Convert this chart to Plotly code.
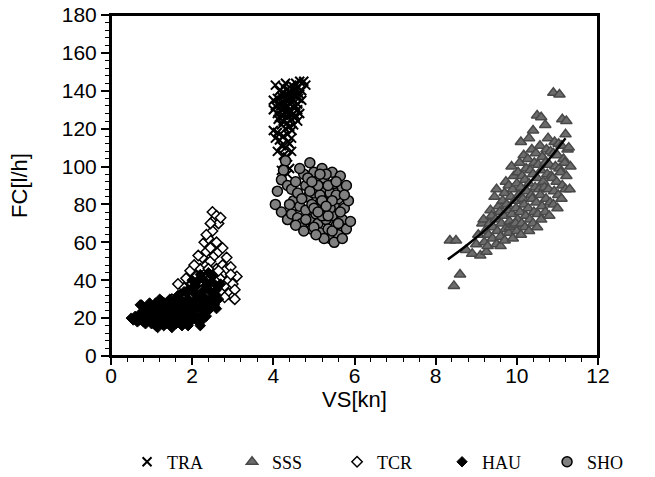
import plotly.graph_objects as go

# ---- data ----
TRA_x = [4.05,4.15,4.25,4.35,4.45,4.55,4.65,4.75,4.6,4.5,4.4,4.3,4.2,4.1,4.0,4.05,4.15,4.25,4.35,4.45,
         4.55,4.65,4.7,4.6,4.5,4.4,4.3,4.2,4.1,4.0,4.15,4.25,4.35,4.45,4.55,4.65,4.6,4.5,4.4,4.3,
         4.2,4.1,4.0,4.05,4.15,4.25,4.35,4.45,4.4,4.3,4.2,4.1,4.25,4.35,4.45,4.3,4.4,4.2,4.35,4.55,
         4.7,4.8,4.6,4.5,4.45,4.3,4.2,4.4,4.5,4.3,
         4.22,4.32,4.42,4.52,4.62,4.28,4.38,4.48,4.58,4.18,4.24,4.34,4.44,4.54,4.12,4.36,4.46,4.26]
TRA_y = [143,140,142,141,143,144,145,145,142,140,139,138,137,136,135,132,133,134,135,136,
         137,138,135,133,131,130,129,130,128,130,126,127,126,125,127,128,124,122,121,120,
         122,118,119,115,114,116,117,115,112,110,111,108,106,105,108,101,99,98,96,132,
         140,143,130,128,134,133,127,137,142,144,
         139,136,133,138,136,131,128,135,141,132,124,123,129,126,125,113,119,102]

SSS_x = [8.35,8.5,8.45,8.6,8.75,8.9,9.0,9.05,9.1,9.15,
         9.2,9.22,9.18,9.25,9.3,9.33,9.28,9.35,9.4,9.42,9.38,9.45,
         9.5,9.52,9.48,9.55,9.5,9.6,9.62,9.58,9.65,9.6,
         9.7,9.72,9.68,9.75,9.7,9.73,9.8,9.82,9.78,9.85,9.8,9.83,
         9.9,9.92,9.88,9.95,9.9,9.93,9.87,10.0,10.02,9.98,10.05,10.0,10.03,9.97,
         10.1,10.12,10.08,10.15,10.1,10.13,10.07,10.1,
         10.2,10.22,10.18,10.25,10.2,10.23,10.17,
         10.3,10.32,10.28,10.35,10.3,10.33,10.27,10.3,
         10.4,10.42,10.38,10.45,10.4,10.43,10.37,10.4,
         10.5,10.52,10.48,10.55,10.5,10.53,10.47,10.5,
         10.6,10.62,10.58,10.65,10.6,10.63,10.57,10.6,
         10.7,10.72,10.68,10.75,10.7,10.73,10.7,
         10.8,10.82,10.78,10.85,10.8,10.83,10.77,
         10.9,10.92,10.88,10.95,10.9,10.93,10.9,
         11.0,11.02,10.98,11.05,11.0,11.03,11.05,
         11.1,11.12,11.08,11.15,11.1,11.12,
         11.2,11.22,11.18,11.25,11.2,11.22,
         11.3,11.32,11.28]
SSS_y = [61,61,37,43,56,54,59,64,53,70,
         60,66,72,55,64,70,58,77,62,68,74,84,
         59,66,72,79,88,63,70,76,82,58,
         61,67,74,80,86,92,65,71,77,84,90,68,
         62,69,75,82,88,95,100,66,72,78,85,91,97,70,
         64,70,76,83,89,95,102,113,
         68,74,80,87,93,99,106,
         66,72,78,85,91,98,104,115,
         70,76,83,89,96,102,109,119,
         68,75,81,88,94,101,107,127,
         72,79,85,92,98,105,111,126,
         76,83,89,96,102,109,122,
         74,81,88,95,101,108,115,
         80,87,94,100,107,113,139,
         78,85,92,99,106,112,138,
         83,90,97,104,111,125,
         88,95,102,109,117,124,
         88,100,110]

TCR_x = [0.6,0.8,0.9,1.0,1.1,1.2,1.3,1.4,1.5,1.5,1.6,1.7,1.7,1.8,1.8,1.9,1.9,2.0,2.0,2.1,
         2.1,2.1,2.2,2.2,2.2,2.25,2.3,2.3,2.3,2.35,2.35,2.4,2.4,2.4,2.45,2.45,2.5,2.5,2.5,2.5,
         2.55,2.55,2.6,2.6,2.6,2.6,2.65,2.65,2.7,2.7,2.7,2.75,2.75,2.8,2.8,2.85,2.9,2.9,2.95,3.0,
         3.0,3.05,3.1,2.15,1.95,2.05,2.35,2.45,1.65,2.55,2.65,2.85,2.95,1.85,2.25,2.4,2.0,1.4,1.2,2.6,
         2.8,3.05]
TCR_y = [20,22,25,23,27,24,28,26,30,24,28,32,25,30,36,27,34,38,31,42,
         36,29,46,39,33,52,60,43,36,55,48,62,40,33,57,50,76,66,44,37,
         72,53,74,60,46,38,70,55,73,41,34,48,57,44,37,46,40,33,47,38,
         31,35,42,53,45,48,64,70,38,40,45,52,43,41,35,46,27,20,19,30,
         31,30]

HAU_x = [0.5,0.55,0.6,0.65,0.7,0.7,0.75,0.8,0.8,0.85,0.9,0.9,0.95,1.0,1.0,1.0,1.05,1.1,1.1,1.1,
         1.15,1.2,1.2,1.25,1.3,1.3,1.3,1.35,1.4,1.4,1.45,1.5,1.5,1.5,1.55,1.6,1.6,1.65,1.7,1.7,
         1.75,1.75,1.8,1.85,1.85,1.9,1.9,1.95,2.0,2.0,2.05,2.05,2.1,2.1,2.15,2.2,2.2,2.2,2.25,2.25,
         2.3,2.3,2.35,2.4,2.45,2.5,2.5,2.55,2.6,2.65,2.7,1.2,0.95,1.45,
         1.65,1.8,2.0,2.15,0.75,1.05,1.25,1.55,1.35,1.15,0.85,1.7,2.25,2.4,2.6,2.35,
         1.9,2.0,2.1,2.2,2.3,2.4,2.5,2.2,2.3,2.4,2.5,2.6,1.9,
         1.7,1.5,1.3,1.6,1.8,2.0,2.1,1.4,1.2,1.0,0.9,0.8,1.1,1.3,1.5,1.7,1.9,0.72]
HAU_y = [20,19,21,18,22,19,20,24,18,21,26,19,23,17,21,25,19,23,28,16,
         21,25,18,22,16,20,26,23,18,28,21,15,25,19,23,17,27,21,19,25,
         29,16,22,26,18,30,21,24,27,19,33,22,25,30,18,16,21,28,34,24,
         31,26,37,29,34,31,39,27,35,30,38,30,28,30,
         32,34,36,40,27,26,29,29,17,15,17,22,19,24,25,21,
         35,40,37,43,40,44,42,32,29,35,27,32,27,
         30,27,24,22,19,23,21,23,21,22,22,20,20,19,21,17,16,27]

SHO_x = [4.3,4.25,4.2,4.35,4.1,4.05,4.2,4.35,4.45,4.5,4.45,4.55,4.6,4.65,4.6,4.7,4.75,4.8,4.85,4.8,
         4.9,4.95,4.9,5.0,5.05,5.0,5.1,5.05,5.1,5.15,5.2,5.25,5.2,5.3,5.25,5.3,5.35,5.4,5.45,5.5,
         5.4,5.5,5.45,5.55,5.6,5.5,5.7,5.65,5.7,5.6,5.75,5.7,5.8,5.9,5.85,5.8,4.95,5.15,5.35,5.0,
         5.2,4.7,4.85,5.55,5.65,5.4,5.3,5.1,4.9,4.75,5.25,5.45,5.6,5.05,4.55,4.4,4.65,5.15,5.75,5.35,
         5.0,5.2,5.45,5.55,4.8,5.3,5.1,4.95]
SHO_y = [103,98,93,90,87,80,76,72,75,82,88,92,86,79,73,70,96,90,84,77,
         72,67,102,97,92,86,80,75,70,65,99,94,88,83,77,72,67,62,97,91,
         86,80,74,69,64,60,62,95,89,83,78,72,67,71,82,90,80,85,90,68,
         74,83,94,85,76,78,96,90,87,66,62,66,70,64,69,80,99,96,85,74,
         78,82,82,92,72,79,76,92]

# trend line points
FIT_x = [8.3, 8.8, 9.3, 9.8, 10.3, 10.8, 11.2]
FIT_y = [51, 59, 68, 79, 91, 104, 115]

fig = go.Figure()

fig.add_trace(go.Scatter(x=TRA_x, y=TRA_y, mode="markers", name="TRA",
                         marker=dict(symbol="x-thin", size=9, line=dict(width=2, color="black"), color="black")))
fig.add_trace(go.Scatter(x=SSS_x, y=SSS_y, mode="markers", name="SSS",
                         marker=dict(symbol="triangle-up", size=10, color="#6c6c6c",
                                     line=dict(width=1.5, color="#484848"))))
fig.add_trace(go.Scatter(x=TCR_x, y=TCR_y, mode="markers", name="TCR",
                         marker=dict(symbol="diamond", size=8, color="white",
                                     line=dict(width=1.5, color="black"))))
fig.add_trace(go.Scatter(x=HAU_x, y=HAU_y, mode="markers", name="HAU",
                         marker=dict(symbol="diamond", size=8, color="black",
                                     line=dict(width=1, color="black"))))
fig.add_trace(go.Scatter(x=SHO_x, y=SHO_y, mode="markers", name="SHO",
                         marker=dict(symbol="circle", size=10, color="#808080",
                                     line=dict(width=1.5, color="black"))))
fig.add_trace(go.Scatter(x=FIT_x, y=FIT_y, mode="lines", showlegend=False,
                         line=dict(color="black", width=2.5, shape="spline")))

tick_font = dict(family="Liberation Sans, Arial", size=21, color="black")
title_font = dict(family="Liberation Sans, Arial", size=22, color="black")

fig.update_layout(
    width=655, height=477,
    margin=dict(l=111, r=57, t=15, b=121, autoexpand=False),
    paper_bgcolor="white", plot_bgcolor="white",
    font=tick_font,
    xaxis=dict(range=[0, 12], dtick=2, tick0=0, showgrid=False, zeroline=False,
               showline=True, mirror=True, linecolor="black", linewidth=2,
               ticks="outside", ticklen=7, tickwidth=1.5, tickcolor="black",
               ticklabelstandoff=-7,
               minor=dict(dtick=0.4, ticks="outside", ticklen=4, tickwidth=1, tickcolor="black"),
               title=dict(text="VS[kn]", font=title_font, standoff=0),
               tickfont=tick_font, automargin=False),
    yaxis=dict(range=[0, 180], dtick=20, tick0=0, showgrid=False, zeroline=False,
               showline=True, mirror=True, linecolor="black", linewidth=2,
               ticks="outside", ticklen=8, tickwidth=1.5, tickcolor="black",
               minor=dict(dtick=4, ticks="outside", ticklen=4, tickwidth=1, tickcolor="black"),
               title=dict(text="FC[l/h]", font=title_font, standoff=28),
               tickfont=tick_font, automargin=False),
    legend=dict(orientation="h", xref="paper", yref="paper",
                x=1.111, xanchor="right", y=-0.311, yanchor="middle",
                entrywidth=60, entrywidthmode="pixels", itemwidth=30,
                font=dict(family="Liberation Serif, Times New Roman", size=18, color="black"),
                traceorder="normal", bgcolor="rgba(0,0,0,0)"),
    shapes=[dict(type="rect", xref="paper", yref="paper", x0=0, x1=1, y0=0, y1=1,
                 line=dict(color="black", width=2), layer="above")],
    showlegend=True,
)

# remove the browser's default 8px page margin so the figure fills the window
fig.write_html("out.html", config={"displayModeBar": False},
               post_script="document.body.style.margin='0';")
